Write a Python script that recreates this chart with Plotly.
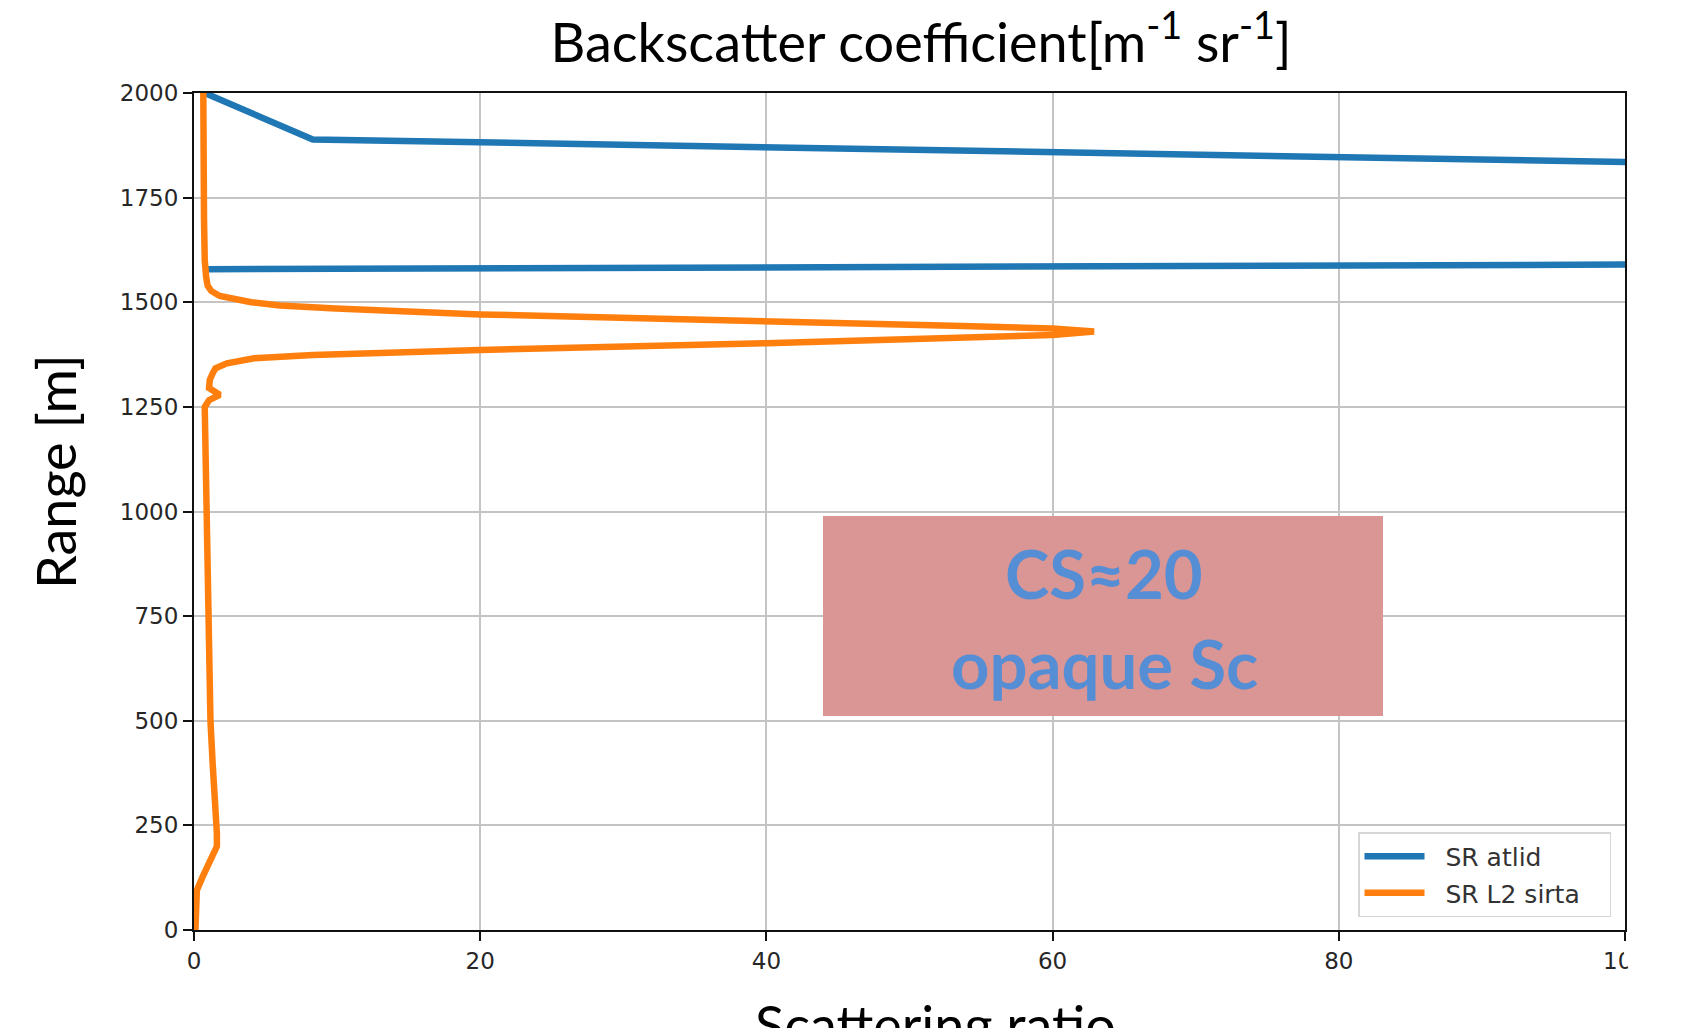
import plotly.graph_objects as go

# ATLID scattering-ratio profile (range in m, scattering ratio)
atlid_range = [1579, 1629, 1889, 2000]
atlid_sr = [0.8, 451, 8.3, 0.75]

# SIRTA L2 scattering-ratio profile
sirta_range = [0, 50, 95, 127, 160, 200, 230, 300, 400, 500, 600, 750, 900, 1000,
               1150, 1250, 1266, 1279, 1295, 1314, 1330, 1342, 1354, 1366, 1374,
               1386, 1402, 1414, 1422, 1430, 1437, 1444, 1454, 1471, 1485, 1492,
               1500, 1508, 1515, 1527, 1540, 1560, 1600, 1700, 1800, 1900, 2000]
sirta_sr = [0.1, 0.15, 0.2, 0.6, 1.1, 1.6, 1.6, 1.45, 1.3, 1.15, 1.1, 1.0, 0.9, 0.8,
            0.75, 0.75, 1.05, 1.8, 1.05, 1.1, 1.3, 1.5, 2.3, 4.2, 8.3,
            20, 40, 53, 60, 62.9, 60, 53, 40, 20, 9.9, 6.0,
            4.0, 2.6, 1.8, 1.2, 0.95, 0.85, 0.75, 0.7, 0.65, 0.65, 0.65]

x_ticks = [0, 20, 40, 60, 80, 100]
y_ticks = [0, 250, 500, 750, 1000, 1250, 1500, 1750, 2000]

W, H = 1682, 1028
L, R, T, B = 194, 57, 93, 98
PW, PH = W - L - R, H - T - B


def px_x(px):
    return (px - L) / PW


def px_y(py):
    return (H - B - py) / PH


NB = "\u00a0\u00a0"

fig = go.Figure()
fig.add_trace(go.Scatter(x=atlid_sr, y=atlid_range, mode="lines", name=NB + "SR atlid",
                         legendgroup="atlid",
                         line=dict(color="#1f77b4", width=6.5)))
fig.add_trace(go.Scatter(x=sirta_sr, y=sirta_range, mode="lines",
                         name=NB + "SR L2 sirta" + "\u00a0\u00a0\u00a0",
                         legendgroup="sirta",
                         line=dict(color="#ff7f0e", width=6.5)))

tick_font = dict(family="DejaVu Sans", size=23, color="#262626")
axis_common = dict(showline=True, linecolor="#111111", linewidth=2, mirror=True,
                   ticks="outside", ticklen=9, tickwidth=2, tickcolor="#111111",
                   showgrid=True, gridcolor="#c4c4c4", gridwidth=1.6,
                   zeroline=False, tickfont=tick_font)

fig.update_xaxes(range=[0, 100], tickvals=x_ticks, ticktext=[str(v) for v in x_ticks],
                 **axis_common)
fig.update_yaxes(range=[0, 2000], tickvals=y_ticks, ticktext=[str(v) for v in y_ticks],
                 **axis_common)

# annotation box inside the plot
fig.add_shape(type="rect", xref="paper", yref="paper",
              x0=px_x(823), x1=px_x(1383), y0=px_y(716), y1=px_y(516),
              fillcolor="#D99694", line=dict(width=0), layer="above")

box_font = dict(family="Lato", size=67, color="#558ED5")
fig.add_annotation(text="<b>CS≈20</b>", xref="paper", yref="paper",
                   x=px_x(1104), y=px_y(573), xanchor="center", yanchor="middle",
                   showarrow=False, font=box_font)
fig.add_annotation(text="<b>opaque Sc</b>", xref="paper", yref="paper",
                   x=px_x(1104), y=px_y(663), xanchor="center", yanchor="middle",
                   showarrow=False, font=box_font)

# axis titles
fig.add_annotation(text="Range [m]", xref="paper", yref="paper",
                   x=px_x(55), y=px_y(472), xanchor="center", yanchor="middle",
                   textangle=-90, showarrow=False,
                   font=dict(family="Lato", size=54, color="#000000"))
fig.add_annotation(text="Scattering ratio", xref="paper", yref="paper",
                   x=px_x(935), y=px_y(1024), xanchor="center", yanchor="middle",
                   showarrow=False,
                   font=dict(family="Lato", size=54, color="#000000"))

# white patch over the lower right corner
fig.add_shape(type="circle", xref="paper", yref="paper",
              x0=px_x(1624), x1=px_x(1730), y0=px_y(992), y1=px_y(912),
              fillcolor="#ffffff", line=dict(width=0), layer="above")

fig.update_layout(
    width=W, height=H, autosize=False,
    margin=dict(l=L, r=R, t=T, b=B, pad=0),
    paper_bgcolor="#ffffff", plot_bgcolor="#ffffff",
    title=dict(text="Backscatter coefficient[m<sup>-1</sup> sr<sup>-1</sup>]",
               xref="container", yref="container",
               x=921 / W, y=1 - 43 / H, xanchor="center", yanchor="middle",
               font=dict(family="Lato", size=54, color="#000000")),
    legend=dict(x=px_x(1358), y=px_y(832), xanchor="left", yanchor="top",
                bgcolor="#ffffff", bordercolor="#d6d6d6", borderwidth=1.5,
                font=dict(family="DejaVu Sans", size=25, color="#333333"),
                itemwidth=60, tracegroupgap=1),
    showlegend=True,
)

fig.write_html("out.html")
